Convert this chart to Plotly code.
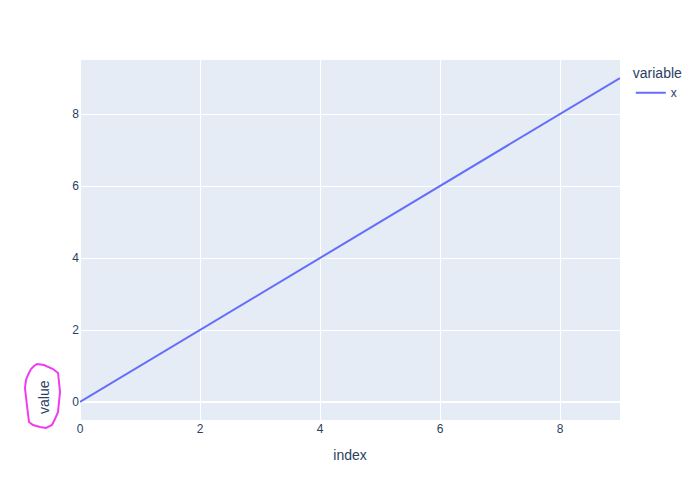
import pandas as pd
import plotly.express as px

# Data
index_vals = list(range(10))
x_vals = [0, 1, 2, 3, 4, 5, 6, 7, 8, 9]

df = pd.DataFrame({"x": x_vals}, index=pd.Index(index_vals, name="index"))

fig = px.line(df)
fig.update_layout(width=700, height=500, yaxis_title_text="",
                  font=dict(family="Arial, Liberation Sans, sans-serif"),
                  margin=dict(l=80, r=80, t=60, b=80))
fig.update_xaxes(automargin=False)
fig.update_yaxes(automargin=False)

# Plot area in pixels: x 80..620, y 60..420
def to_paper(px_x, px_y):
    return (px_x - 80) / 540, (420 - px_y) / 360

# Moved y-axis title, as an annotation
ax, ay = to_paper(44, 397)
fig.add_annotation(text="value", x=ax, y=ay, xref="paper", yref="paper",
                   xanchor="center", yanchor="middle",
                   showarrow=False, textangle=-90,
                   font=dict(size=14, color="#2a3f5f"))

# Hand-drawn loop around the title
loop_px = [(37, 364), (44, 365), (53, 369), (58, 373), (59, 382), (60, 392),
           (59, 402), (58, 412), (55, 419), (52, 425), (46, 428), (40, 427),
           (33, 425), (29, 422), (28, 414), (27, 406), (26, 397), (25, 388),
           (26, 380), (28, 375), (31, 369), (34, 366)]
pts = [to_paper(a, b) for a, b in loop_px]
path = "M" + " L".join(f"{p[0]:.4f},{p[1]:.4f}" for p in pts) + " Z"
fig.add_shape(type="path", path=path, xref="paper", yref="paper",
              line=dict(color="#f03cf0", width=2))

fig.write_html("out.html", config={"displayModeBar": False},
               post_script="document.body.style.margin='0';")
